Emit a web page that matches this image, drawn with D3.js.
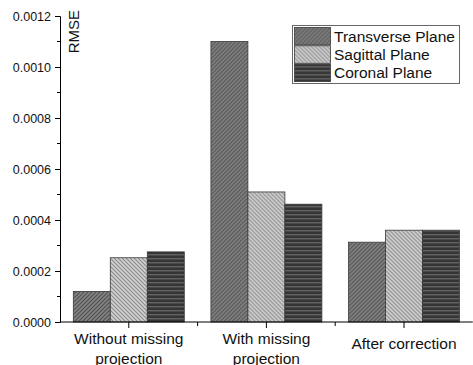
<!DOCTYPE html>
<html>
<head>
<meta charset="utf-8">
<script src="https://cdn.jsdelivr.net/npm/d3@7/dist/d3.min.js"></script>
<style>
  html, body { margin: 0; padding: 0; background: #fff; }
  svg { display: block; font-family: "Liberation Sans", Arial, sans-serif; }
</style>
</head>
<body>
<svg id="chart" width="473" height="365"></svg>
<script>
// RMSE per reconstruction condition and anatomical plane
const categories = ["Without missing\nprojection", "With missing\nprojection", "After correction"];
const series = ["Transverse Plane", "Sagittal Plane", "Coronal Plane"];
const transverse = [0.000120, 0.001100, 0.000313];
const sagittal   = [0.000252, 0.000510, 0.000360];
const coronal    = [0.000275, 0.000462, 0.000360];
const yTicks = [0, 0.0002, 0.0004, 0.0006, 0.0008, 0.0010, 0.0012];
const yMinorTicks = [0.0001, 0.0003, 0.0005, 0.0007, 0.0009, 0.0011];

const values = [transverse, sagittal, coronal];
const svg = d3.select("#chart");

const margin = { left: 60, top: 16, right: 0, bottom: 43 };
const W = 473, H = 365;
const plotBottom = H - margin.bottom; // 322

const x0 = d3.scaleBand().domain(categories).range([margin.left, 60 + 3 * 137.6]).paddingInner(0).paddingOuter(0);
const x1 = d3.scaleBand().domain(series).range([0, x0.bandwidth()]).paddingInner(0).paddingOuter(0.36);
const y = d3.scaleLinear().domain([0, 0.0012]).range([plotBottom, margin.top]);

// hatch patterns
const defs = svg.append("defs");
function hatch(id, bg, line, kind) {
  const p = defs.append("pattern").attr("id", id).attr("patternUnits", "userSpaceOnUse")
    .attr("width", 4).attr("height", 4);
  p.append("rect").attr("width", 4).attr("height", 4).attr("fill", bg);
  if (kind === "fwd") {
    p.append("path").attr("d", "M-1,1 l2,-2 M0,4 l4,-4 M3,5 l2,-2")
      .attr("stroke", line).attr("stroke-width", 1.2);
  } else if (kind === "back") {
    p.append("path").attr("d", "M-1,3 l2,2 M0,0 l4,4 M3,-1 l2,2")
      .attr("stroke", line).attr("stroke-width", 1.2);
  } else {
    p.append("rect").attr("y", 2).attr("width", 4).attr("height", 1.4).attr("fill", line);
  }
}
hatch("pTrans", "#838383", "#525252", "fwd");
hatch("pSag", "#d2d2d2", "#8c8c8c", "back");
hatch("pCor", "#353535", "#636363", "horiz");
const fills = ["url(#pTrans)", "url(#pSag)", "url(#pCor)"];

// bars
const groups = svg.append("g").selectAll("g").data(categories).join("g")
  .attr("transform", d => `translate(${x0(d)},0)`);
groups.selectAll("rect")
  .data((d, i) => series.map((s, j) => ({ s, j, v: values[j][i] })))
  .join("rect")
  .attr("x", d => x1(d.s))
  .attr("width", x1.bandwidth())
  .attr("y", d => y(d.v))
  .attr("height", d => plotBottom - y(d.v))
  .attr("fill", d => fills[d.j])
  .attr("stroke", "#3a3a3a")
  .attr("stroke-width", 0.8);

// y axis
const yAxis = d3.axisLeft(y).tickValues(yTicks).tickFormat(d3.format(".4f")).tickSize(5).tickPadding(4);
const gy = svg.append("g").attr("transform", `translate(${margin.left},0)`).call(yAxis);
gy.selectAll(".tick text").attr("font-size", 12.5).attr("fill", "#111").attr("font-family", "Liberation Sans, Arial, sans-serif");
gy.select(".domain").attr("stroke", "#000");
gy.selectAll(".tick line").attr("stroke", "#000");
svg.append("g").selectAll("line").data(yMinorTicks).join("line")
  .attr("x1", margin.left - 3).attr("x2", margin.left)
  .attr("y1", d => y(d)).attr("y2", d => y(d)).attr("stroke", "#000");

// x axis
const xRange = x0.range();
svg.append("line").attr("x1", xRange[0]).attr("x2", xRange[1]).attr("y1", plotBottom).attr("y2", plotBottom)
  .attr("stroke", "#000");
svg.append("g").selectAll("line").data(categories).join("line")
  .attr("x1", d => x0(d) + x0.bandwidth() / 2).attr("x2", d => x0(d) + x0.bandwidth() / 2)
  .attr("y1", plotBottom).attr("y2", plotBottom + 6).attr("stroke", "#000");
svg.append("g").selectAll("line").data(categories.slice(1)).join("line")
  .attr("x1", d => x0(d)).attr("x2", d => x0(d))
  .attr("y1", plotBottom).attr("y2", plotBottom + 4).attr("stroke", "#000");

// category labels
svg.append("g").selectAll("text").data(categories).join("text")
  .attr("x", d => x0(d) + x0.bandwidth() / 2)
  .attr("text-anchor", "middle")
  .attr("font-size", 15.5)
  .attr("fill", "#111")
  .each(function(d) {
    const lines = d.split("\n");
    const t = d3.select(this);
    const base = lines.length > 1 ? plotBottom + 22 : plotBottom + 27;
    lines.forEach((ln, i) => {
      t.append("tspan").attr("x", x0(d) + x0.bandwidth() / 2).attr("y", base + i * 19.5).text(ln);
    });
  });

// y axis title
svg.append("text")
  .attr("transform", `translate(79,10) rotate(-90)`)
  .attr("text-anchor", "end")
  .attr("font-size", 15)
  .attr("fill", "#111")
  .text("RMSE");

// legend
const lg = svg.append("g").attr("transform", "translate(292.5,25.5)");
lg.append("rect").attr("width", 167).attr("height", 58).attr("fill", "#fff").attr("stroke", "#666").attr("stroke-width", 1);
series.forEach((s, j) => {
  const row = lg.append("g").attr("transform", `translate(2,${2 + j * 18.3})`);
  row.append("rect").attr("width", 36).attr("height", 17.5).attr("fill", fills[j])
    .attr("stroke", "#3a3a3a").attr("stroke-width", 0.8);
  row.append("text").attr("x", 39.5).attr("y", 14).attr("font-size", 15.5).attr("fill", "#111").text(s);
});
</script>
</body>
</html>
